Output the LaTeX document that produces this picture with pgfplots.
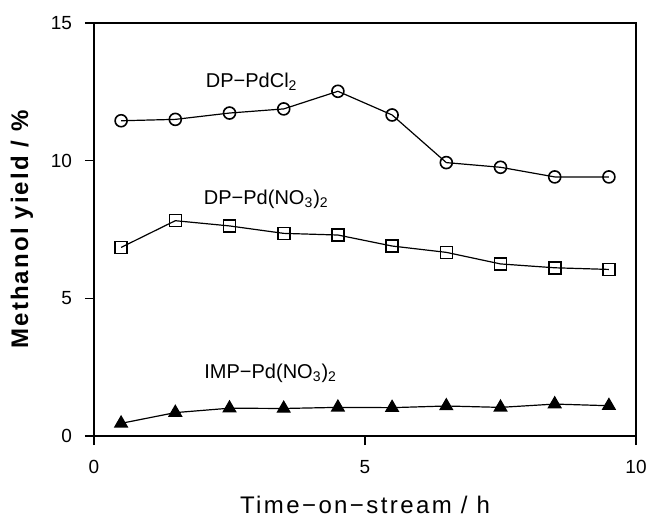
\documentclass[border=0pt]{standalone}
\usepackage{fontspec}
\setmainfont{Liberation Sans}
\newfontfamily\xlabfont[LetterSpace=10]{Liberation Sans}
\newfontfamily\ylabfont[LetterSpace=9]{Liberation Sans}
\usepackage{pgfplots}
\pgfplotsset{compat=1.18}

% methanol yield vs time-on-stream
\pgfplotstableread{
t    y
0.5  11.45
1.5  11.50
2.5  11.73
3.5  11.88
4.5  12.52
5.5  11.66
6.5  9.93
7.5  9.76
8.5  9.41
9.5  9.41
}\dpcl
\pgfplotstableread{
t    y
0.5  6.85
1.5  7.82
2.5  7.63
3.5  7.36
4.5  7.30
5.5  6.90
6.5  6.67
7.5  6.25
8.5  6.11
9.5  6.05
}\dpno
\pgfplotstableread{
t    y
0.5  0.46
1.5  0.85
2.5  1.01
3.5  1.00
4.5  1.04
5.5  1.03
6.5  1.09
7.5  1.04
8.5  1.16
9.5  1.10
}\impno

\begin{document}
\begin{tikzpicture}
\begin{axis}[
    scale only axis,
    width=271pt, height=206.5pt,
    xmin=0, xmax=10, ymin=0, ymax=15,
    xtick={0,5,10}, ytick={0,5,10,15},
    axis line style={line width=1pt},
    tick style={line width=0.8pt, black},
    tick align=outside,
    major tick length=4.5pt,
    xtick pos=bottom, ytick pos=left,
    tick label style={font=\fontsize{9.5}{11}\selectfont},
    /pgf/number format/assume math mode=true,
    xticklabel style={yshift=-4pt},
    yticklabel style={xshift=-3pt},
    xlabel={{\xlabfont\fontsize{12}{14}\selectfont Time−on−stream / h}},
    ylabel={{\ylabfont\bfseries\fontsize{12}{14}\selectfont Methanol yield / \%}},
    xlabel style={at={(axis description cs:0.5,0)}, anchor=center, yshift=-34.5pt},
    ylabel style={at={(axis description cs:0,0.5)}, anchor=center, rotate=0, yshift=36pt},
    every axis plot/.append style={black, line width=0.6pt},
    clip=false,
]
\addplot[mark=o, mark size=3pt, mark options={line width=0.8pt, fill=white}] table[x=t,y=y] {\dpcl};
\addplot[mark=square, mark size=3pt, mark options={line width=0.8pt, fill=white}] table[x=t,y=y] {\dpno};
\addplot[mark=triangle*, mark size=3.6pt] table[x=t,y=y] {\impno};
\node[font=\fontsize{10}{12}\selectfont] at (axis cs:2.91,12.86) {DP−PdCl\textsubscript{2}};
\node[font=\fontsize{10}{12}\selectfont] at (axis cs:3.18,8.6) {DP−Pd(NO\textsubscript{3})\textsubscript{2}};
\node[font=\fontsize{10}{12}\selectfont] at (axis cs:3.26,2.29) {IMP−Pd(NO\textsubscript{3})\textsubscript{2}};
\end{axis}
\pgfresetboundingbox
\path (current axis.south west) ++(-47pt,-42.5pt) coordinate (bb1);
\path (current axis.north east) ++(7.5pt,11.5pt) coordinate (bb2);
\useasboundingbox (bb1) rectangle (bb2);
\end{tikzpicture}
\end{document}
